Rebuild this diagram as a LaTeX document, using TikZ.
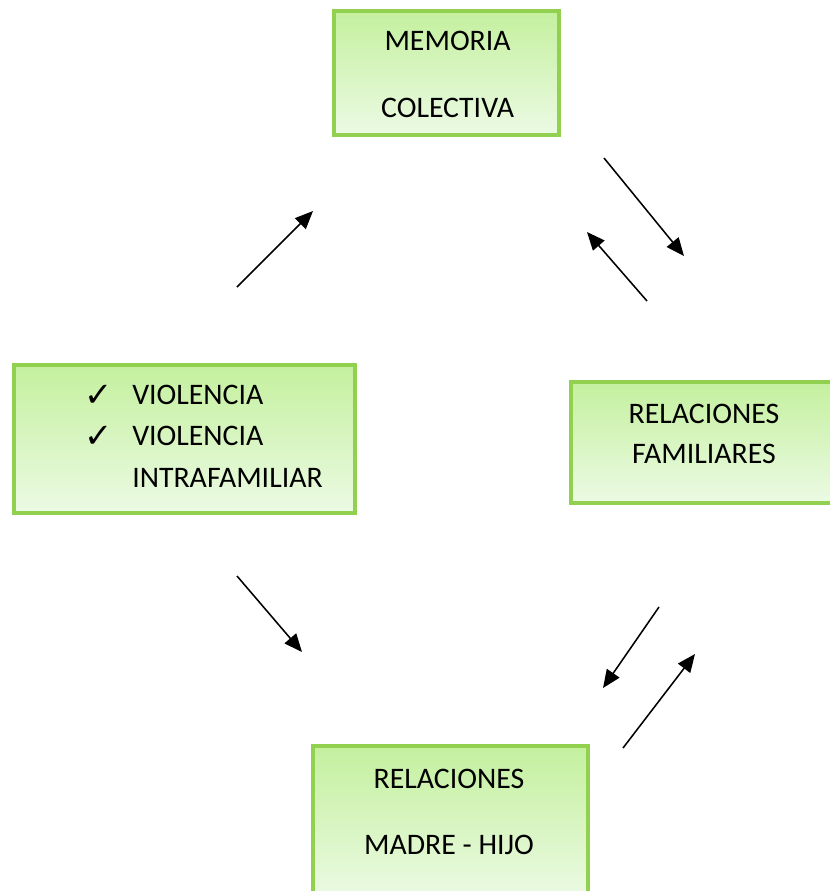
\documentclass[tikz,border=0pt]{standalone}
\usepackage{fontspec}
\setmainfont{Carlito}
\newfontfamily\symfont{DejaVu Sans}
\usetikzlibrary{arrows.meta}
\definecolor{boxline}{RGB}{146,208,80}
\definecolor{boxtop}{RGB}{196,240,158}
\definecolor{boxbot}{RGB}{236,250,228}
\tikzset{
  box/.style={draw=boxline,line width=2.8pt,top color=boxtop,bottom color=boxbot,inner sep=0pt},
  txt/.style={anchor=base,inner sep=0pt,font=\fontsize{21.2}{25}\selectfont},
  arr/.style={line width=1.1pt,-{Triangle[length=0.45cm,width=0.38cm]}}
}
\begin{document}
\begin{tikzpicture}
\useasboundingbox(0,0)rectangle(20.75,-22.275);
% boxes
\node[box,minimum width=5.625cm,minimum height=3.1cm](memoria)at(11.1625,-1.825){};
\node[box,minimum width=8.525cm,minimum height=3.7cm](violencia)at(4.6125,-10.975){};
\node[box,minimum width=6.725cm,minimum height=3.025cm](familiares)at(17.6375,-11.0625){};
\node[box,minimum width=6.875cm,minimum height=3.85cm](madrehijo)at(11.2625,-20.575){};
% texts
\node[txt](mem1)at(11.19,-1.25){MEMORIA};
\node[txt](mem2)at(11.19,-2.925){COLECTIVA};
\node[txt,anchor=base west](v1)at(3.3,-10.1){VIOLENCIA};
\node[txt,anchor=base west](v2)at(3.3,-11.125){VIOLENCIA};
\node[txt,anchor=base west](v3)at(3.3,-12.18){INTRAFAMILIAR};
\node[txt,anchor=base west,font=\symfont\fontsize{24}{28}\selectfont](c1)at(2.1,-10.17){✓};
\node[txt,anchor=base west,font=\symfont\fontsize{24}{28}\selectfont](c2)at(2.1,-11.195){✓};
\node[txt](fam1)at(17.6,-10.575){RELACIONES};
\node[txt](fam2)at(17.6,-11.58){FAMILIARES};
\node[txt](mh1)at(11.225,-19.7){RELACIONES};
\node[txt](mh2)at(11.225,-21.35){MADRE - HIJO};
% arrows
\coordinate(s1)at(5.925,-7.175);  \coordinate(e1)at(7.825,-5.275);
\coordinate(s2)at(15.1,-3.95);    \coordinate(e2)at(17.1,-6.4);
\coordinate(s3)at(16.175,-7.525); \coordinate(e3)at(14.675,-5.8);
\coordinate(s4)at(5.925,-14.4);   \coordinate(e4)at(7.55,-16.3);
\coordinate(s5)at(16.475,-15.175);\coordinate(e5)at(15.075,-17.2);
\coordinate(s6)at(15.575,-18.7);  \coordinate(e6)at(17.375,-16.35);
\foreach \i in {1,...,6}{\draw[arr](s\i)--(e\i);}
\end{tikzpicture}
\end{document}
